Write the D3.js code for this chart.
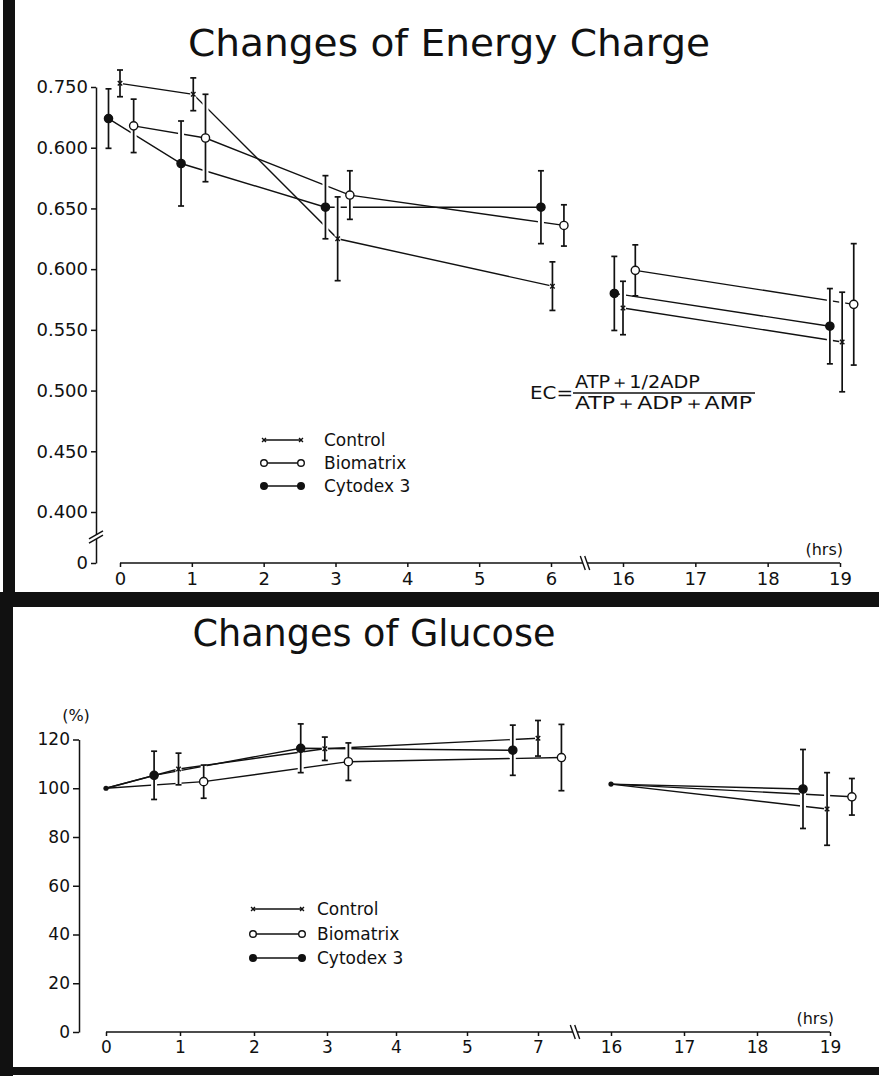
<!DOCTYPE html>
<html>
<head>
<meta charset="utf-8">
<script src="https://cdn.jsdelivr.net/npm/d3@7"></script>
<style>
  html, body { margin: 0; padding: 0; background: #fff; }
  svg { display: block; }
  text { font-family: "DejaVu Sans", "Liberation Sans", sans-serif; fill: #111; }
</style>
</head>
<body>
<svg id="fig" width="879" height="1076"></svg>
<script>
// ---------- Energy charge (EC) : hours, mean, SD ----------
const ecControlHrs   = [0, 1.02, 3.03, 6.02, 16.0, 19.03];
const ecControl      = [0.753, 0.744, 0.625, 0.586, 0.568, 0.540];
const ecControlSD    = [0.011, 0.0135, 0.0345, 0.020, 0.022, 0.041];

const ecBiomatrixHrs = [0.19, 1.19, 3.2, 6.18, 16.17, 19.19];
const ecBiomatrix    = [0.718, 0.708, 0.661, 0.636, 0.599, 0.571];
const ecBiomatrixSD  = [0.022, 0.036, 0.020, 0.017, 0.021, 0.050];

const ecCytodexHrs   = [-0.16, 0.85, 2.86, 5.86, 15.88, 18.86];
const ecCytodex      = [0.724, 0.687, 0.651, 0.651, 0.580, 0.553];
const ecCytodexSD    = [0.0245, 0.035, 0.026, 0.030, 0.0305, 0.031];

const ecTickValues   = [0, 0.40, 0.45, 0.50, 0.55, 0.60, 0.65, 0.70, 0.75];
const ecTickLabels   = ["0", "0.400", "0.450", "0.500", "0.550", "0.600", "0.650", "0.600", "0.750"];
const ecHourTicksEarly = [0, 1, 2, 3, 4, 5, 6];
const ecHourTicksLate  = [16, 17, 18, 19];

// ---------- Glucose (% of start) : hours, mean, SD ----------
const glcStartHrs     = [0, 16];
const glcStart        = [100, 101.7];

const glcControlHrs   = [0.98, 2.97, 7.0, 18.96];
const glcControl      = [107.9, 116.2, 120.5, 91.5];
const glcControlSD    = [6.5, 4.8, 7.3, 14.9];

const glcBiomatrixHrs = [1.32, 3.31, 7.66, 19.3];
const glcBiomatrix    = [102.7, 110.9, 112.6, 96.5];
const glcBiomatrixSD  = [6.8, 7.7, 13.6, 7.5];

const glcCytodexHrs   = [0.65, 2.64, 6.29, 18.63];
const glcCytodex      = [105.3, 116.4, 115.6, 99.7];
const glcCytodexSD    = [9.9, 10.0, 10.3, 16.2];

const glcTickValues     = [0, 20, 40, 60, 80, 100, 120];
const glcHourTicksEarly = [0, 1, 2, 3, 4, 5, 7];
const glcHourTicksLate  = [16, 17, 18, 19];

const seriesNames = ["Control", "Biomatrix", "Cytodex 3"];
const seriesKinds = ["cross", "open", "filled"];

const ink = "#111";
const svg = d3.select("#fig");

// ---------- scales ----------
const yEC = d3.scaleLinear().domain([0, 0.40, 0.75]).range([563, 512, 87]);
const xECEarly = d3.scaleLinear().domain([0, 6]).range([120, 551]);
const xECLate  = d3.scaleLinear().domain([16, 19]).range([623, 840]);

const yGlc = d3.scaleLinear().domain([0, 120]).range([1032, 739.5]);
const xGlcEarly = d3.scaleLinear().domain([0, 1, 2, 3, 4, 5, 7]).range([106, 180, 254, 327, 396, 467, 538]);
const xGlcLate  = d3.scaleLinear().domain([16, 19]).range([611, 830]);

// ---------- frame ----------
const frame = svg.append("g").attr("fill", ink);
frame.append("rect").attr("x", 3).attr("y", 0).attr("width", 12).attr("height", 600);
frame.append("rect").attr("x", 0).attr("y", 592).attr("width", 879).attr("height", 15);
frame.append("rect").attr("x", 0).attr("y", 600).attr("width", 13).attr("height", 476);
frame.append("rect").attr("x", 0).attr("y", 1067).attr("width", 879).attr("height", 8);

// ---------- helpers ----------
function drawMarker(g, kind, x, y, size) {
  if (kind === "cross") {
    const h = size * 0.7;
    g.append("path")
      .attr("d", `M${x - h},${y - h}L${x + h},${y + h}M${x - h},${y + h}L${x + h},${y - h}`)
      .attr("stroke", ink).attr("stroke-width", 1.4);
  } else {
    g.append("circle").attr("cx", x).attr("cy", y).attr("r", size)
      .attr("fill", kind === "filled" ? ink : "#fff")
      .attr("stroke", ink).attr("stroke-width", 1.4);
  }
}

function drawPanel(cfg) {
  const g = svg.append("g");
  const xOf = t => (t < cfg.split ? cfg.xEarly(t) : cfg.xLate(t));
  const line = d3.line().x(d => xOf(d.t)).y(d => cfg.y(d.v));

  const series = cfg.series.map((s, k) => ({
    kind: seriesKinds[k],
    pts: s.hrs.map((t, i) => ({ t, v: s.vals[i], e: s.sd[i] }))
  }));

  // connecting lines, one per time segment
  series.forEach(s => {
    [s.pts.filter(p => p.t < cfg.split), s.pts.filter(p => p.t >= cfg.split)].forEach((seg, k) => {
      if (cfg.starts) seg = [{ t: cfg.starts.hrs[k], v: cfg.starts.vals[k] }].concat(seg);
      g.append("path").attr("d", line(seg))
        .attr("fill", "none").attr("stroke", ink).attr("stroke-width", 1.4);
    });
  });

  if (cfg.starts) {
    cfg.starts.hrs.forEach((t, i) => {
      g.append("circle").attr("cx", xOf(t)).attr("cy", cfg.y(cfg.starts.vals[i]))
        .attr("r", 2.6).attr("fill", ink);
    });
  }

  const all = series.flatMap(s => s.pts.map(p => Object.assign({ kind: s.kind }, p)));

  // white halo behind each error bar (lines are interrupted where they pass)
  g.selectAll(null).data(all).join("line")
    .attr("x1", d => xOf(d.t)).attr("x2", d => xOf(d.t))
    .attr("y1", d => cfg.y(d.v + d.e)).attr("y2", d => cfg.y(d.v - d.e))
    .attr("stroke", "#fff").attr("stroke-width", 6);

  // error bars with caps
  const eb = g.selectAll(null).data(all).join("g").attr("stroke", ink).attr("stroke-width", 1.7);
  eb.append("line")
    .attr("x1", d => xOf(d.t)).attr("x2", d => xOf(d.t))
    .attr("y1", d => cfg.y(d.v + d.e)).attr("y2", d => cfg.y(d.v - d.e));
  eb.append("line")
    .attr("x1", d => xOf(d.t) - 3).attr("x2", d => xOf(d.t) + 3)
    .attr("y1", d => cfg.y(d.v + d.e)).attr("y2", d => cfg.y(d.v + d.e));
  eb.append("line")
    .attr("x1", d => xOf(d.t) - 3).attr("x2", d => xOf(d.t) + 3)
    .attr("y1", d => cfg.y(d.v - d.e)).attr("y2", d => cfg.y(d.v - d.e));

  // markers
  all.forEach(d => drawMarker(g, d.kind, xOf(d.t), cfg.y(d.v), d.kind === "cross" ? 3.2 : 4.1));

  // y axis
  const ya = g.append("g").attr("transform", `translate(${cfg.yAxisX},0)`)
    .call(d3.axisLeft(cfg.y).tickValues(cfg.yTicks).tickFormat(cfg.yFormat)
      .tickSize(cfg.yTickSize).tickSizeOuter(0).tickPadding(3));
  ya.attr("font-family", null).attr("font-size", null).attr("color", ink);
  ya.selectAll("text").attr("font-size", cfg.yFont);
  ya.selectAll("path, line").attr("stroke-width", 1.5);

  // x axis: two segments on one base line with a break mark
  const x0 = cfg.xEarly(cfg.xTicksEarly[0]);
  const x1 = cfg.xLate(cfg.xTicksLate[cfg.xTicksLate.length - 1]);
  g.append("line").attr("x1", x0).attr("x2", x1).attr("y1", cfg.xAxisY).attr("y2", cfg.xAxisY)
    .attr("stroke", ink).attr("stroke-width", 1.5);
  [[cfg.xEarly, cfg.xTicksEarly], [cfg.xLate, cfg.xTicksLate]].forEach(([sc, ticks]) => {
    const xa = g.append("g").attr("transform", `translate(0,${cfg.xAxisY})`)
      .call(d3.axisBottom(sc).tickValues(ticks).tickFormat(d3.format("d"))
        .tickSize(4).tickSizeOuter(0).tickPadding(cfg.xPad));
    xa.select(".domain").remove();
    xa.attr("font-family", null).attr("font-size", null).attr("color", ink);
    xa.selectAll("text").attr("font-size", cfg.xFont);
    xa.selectAll("line").attr("stroke-width", 1.5);
  });

  // x axis break
  const bx = cfg.xBreak, by = cfg.xAxisY;
  g.append("rect").attr("x", bx - 2).attr("y", by - 2).attr("width", 4).attr("height", 4).attr("fill", "#fff");
  [-2.2, 2.2].forEach(o => {
    g.append("line").attr("x1", bx + o - 2.5).attr("y1", by - 7).attr("x2", bx + o + 2.5).attr("y2", by + 7)
      .attr("stroke", ink).attr("stroke-width", 1.4);
  });

  // "(hrs)" label
  g.append("text").attr("x", cfg.hrsX).attr("y", cfg.hrsY).attr("text-anchor", "end")
    .attr("font-size", 16).text("(hrs)");

  return g;
}

function drawLegend(xa, xb, xt, ys, fontSize) {
  const g = svg.append("g");
  seriesNames.forEach((name, i) => {
    const y = ys[i];
    g.append("line").attr("x1", xa).attr("x2", xb).attr("y1", y).attr("y2", y)
      .attr("stroke", ink).attr("stroke-width", 1.3);
    [xa, xb].forEach(x => drawMarker(g, seriesKinds[i], x, y, seriesKinds[i] === "cross" ? 2.8 : 3.3));
    g.append("text").attr("x", xt).attr("y", y + 6).attr("font-size", fontSize).text(name);
  });
}

// ---------- Energy charge panel ----------
svg.append("text").attr("x", 449).attr("y", 56).attr("text-anchor", "middle")
  .attr("font-size", 38).attr("textLength", 522).attr("lengthAdjust", "spacingAndGlyphs")
  .text("Changes of Energy Charge");

const ecPanel = drawPanel({
  series: [
    { hrs: ecControlHrs, vals: ecControl, sd: ecControlSD },
    { hrs: ecBiomatrixHrs, vals: ecBiomatrix, sd: ecBiomatrixSD },
    { hrs: ecCytodexHrs, vals: ecCytodex, sd: ecCytodexSD }
  ],
  split: 11, xEarly: xECEarly, xLate: xECLate, y: yEC,
  yAxisX: 96, yTicks: ecTickValues, yFormat: (d, i) => ecTickLabels[i], yTickSize: 5, yFont: 18,
  xTicksEarly: ecHourTicksEarly, xTicksLate: ecHourTicksLate, xAxisY: yEC(0), xPad: 5, xFont: 18,
  xBreak: 585, hrsX: 843, hrsY: 555
});

// y-axis break between 0 and 0.400
{
  const bx = 96, by = 537;
  ecPanel.append("rect").attr("x", bx - 2).attr("y", by - 2).attr("width", 4).attr("height", 4).attr("fill", "#fff");
  [-2.2, 2.2].forEach(o => {
    ecPanel.append("line").attr("x1", bx - 7).attr("y1", by + o + 4).attr("x2", bx + 7).attr("y2", by + o - 4)
      .attr("stroke", ink).attr("stroke-width", 1.4);
  });
}

// energy charge formula
{
  const f = svg.append("g");
  f.append("text").attr("x", 530).attr("y", 399).attr("font-size", 17)
    .attr("textLength", 43).attr("lengthAdjust", "spacingAndGlyphs").text("EC=");
  f.append("text").attr("x", 575).attr("y", 388).attr("font-size", 17)
    .attr("textLength", 125).attr("lengthAdjust", "spacingAndGlyphs").text("ATP＋1/2ADP");
  f.append("line").attr("x1", 573).attr("x2", 755).attr("y1", 393).attr("y2", 393)
    .attr("stroke", ink).attr("stroke-width", 1.3);
  f.append("text").attr("x", 575).attr("y", 409).attr("font-size", 17)
    .attr("textLength", 177).attr("lengthAdjust", "spacingAndGlyphs").text("ATP＋ADP＋AMP");
}

drawLegend(264, 301, 324, [440, 463, 486], 17);

// ---------- Glucose panel ----------
svg.append("text").attr("x", 374).attr("y", 646).attr("text-anchor", "middle")
  .attr("font-size", 38).attr("textLength", 363).attr("lengthAdjust", "spacingAndGlyphs")
  .text("Changes of Glucose");

drawPanel({
  series: [
    { hrs: glcControlHrs, vals: glcControl, sd: glcControlSD },
    { hrs: glcBiomatrixHrs, vals: glcBiomatrix, sd: glcBiomatrixSD },
    { hrs: glcCytodexHrs, vals: glcCytodex, sd: glcCytodexSD }
  ],
  starts: { hrs: glcStartHrs, vals: glcStart },
  split: 11, xEarly: xGlcEarly, xLate: xGlcLate, y: yGlc,
  yAxisX: 79, yTicks: glcTickValues, yFormat: d3.format("d"), yTickSize: 6, yFont: 17,
  xTicksEarly: glcHourTicksEarly, xTicksLate: glcHourTicksLate, xAxisY: yGlc(0), xPad: 5, xFont: 17,
  xBreak: 575, hrsX: 834, hrsY: 1024
});

svg.append("text").attr("x", 76).attr("y", 721).attr("text-anchor", "middle")
  .attr("font-size", 16).text("(%)");

drawLegend(253, 302, 317, [909, 934, 958], 17);
</script>
</body>
</html>
